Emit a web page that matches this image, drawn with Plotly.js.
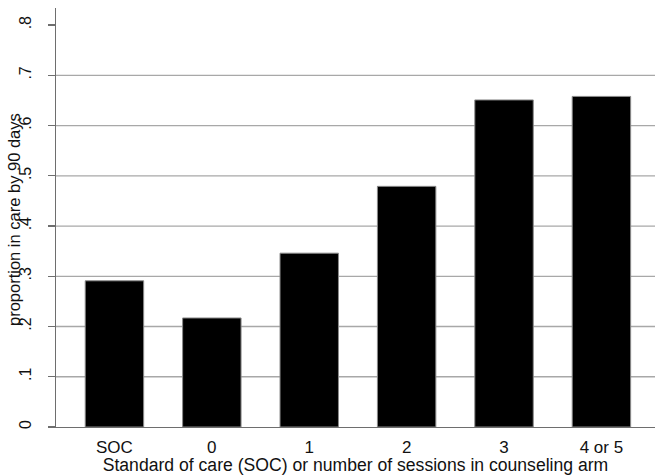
<!DOCTYPE html>
<html>
<head>
<meta charset="utf-8">
<script src="https://cdn.plot.ly/plotly-3.0.1.min.js"></script>
<style>html,body{margin:0;padding:0;background:#fff;}#chart{width:655px;height:475px;}</style>
</head>
<body>
<div id="chart"></div>
<script>
var categories = ["SOC", "0", "1", "2", "3", "4 or 5"];
var proportions = [0.291, 0.217, 0.346, 0.479, 0.651, 0.658];
var yTickValues = [0, 0.1, 0.2, 0.3, 0.4, 0.5, 0.6, 0.7, 0.8];
var yTickLabels = ["0", ".1", ".2", ".3", ".4", ".5", ".6", ".7", ".8"];
var gridValues = [0.1, 0.2, 0.3, 0.4, 0.5, 0.6, 0.7];
var xTitle = "Standard of care (SOC) or number of sessions in counseling arm";
var yTitle = "proportion in care by 90 days";

var fontFam = "Liberation Sans, Arial, Helvetica, sans-serif";

var shapes = gridValues.map(function (v) {
  return {type: "line", xref: "paper", yref: "y", x0: 0, x1: 1, y0: v, y1: v,
          line: {color: "#a8a8a8", width: 1.3}, layer: "below"};
});

var trace = {
  type: "bar",
  x: categories,
  y: proportions,
  width: 0.6,
  marker: {color: "#000000", line: {color: "#8a8a8a", width: 1}},
  hoverinfo: "none"
};

var layout = {
  width: 655, height: 475,
  margin: {l: 56, r: 0, t: 8, b: 48, pad: 0},
  paper_bgcolor: "#ffffff", plot_bgcolor: "#ffffff",
  showlegend: false,
  font: {family: fontFam, size: 14, color: "#000"},
  shapes: shapes,
  annotations: [{
    text: yTitle, textangle: -90, showarrow: false,
    xref: "paper", yref: "paper", x: 0, y: 0.494,
    xanchor: "center", yanchor: "middle", xshift: -42,
    font: {family: fontFam, size: 16.5, color: "#111"}
  }],
  xaxis: {
    type: "category",
    range: [-0.6, 5.55],
    showgrid: false, zeroline: false,
    showline: true, linecolor: "#6e6e6e", linewidth: 1.2,
    ticks: "", ticklen: 0,
    ticklabelstandoff: 4,
    tickfont: {family: fontFam, size: 17, color: "#111"},
    title: {text: xTitle,
            font: {family: fontFam, size: 17.6, color: "#111"}, standoff: 2},
    fixedrange: true
  },
  yaxis: {
    range: [0, 0.834],
    tickvals: yTickValues, ticktext: yTickLabels,
    tickangle: -90,
    showgrid: false, zeroline: false,
    showline: true, linecolor: "#6e6e6e", linewidth: 1.2,
    ticks: "outside", ticklen: 7, tickcolor: "#6e6e6e", tickwidth: 1.2,
    ticklabelstandoff: 10,
    tickfont: {family: fontFam, size: 16, color: "#111"},
    fixedrange: true
  }
};

Plotly.newPlot("chart", [trace], layout, {displayModeBar: false, staticPlot: true});
</script>
</body>
</html>
